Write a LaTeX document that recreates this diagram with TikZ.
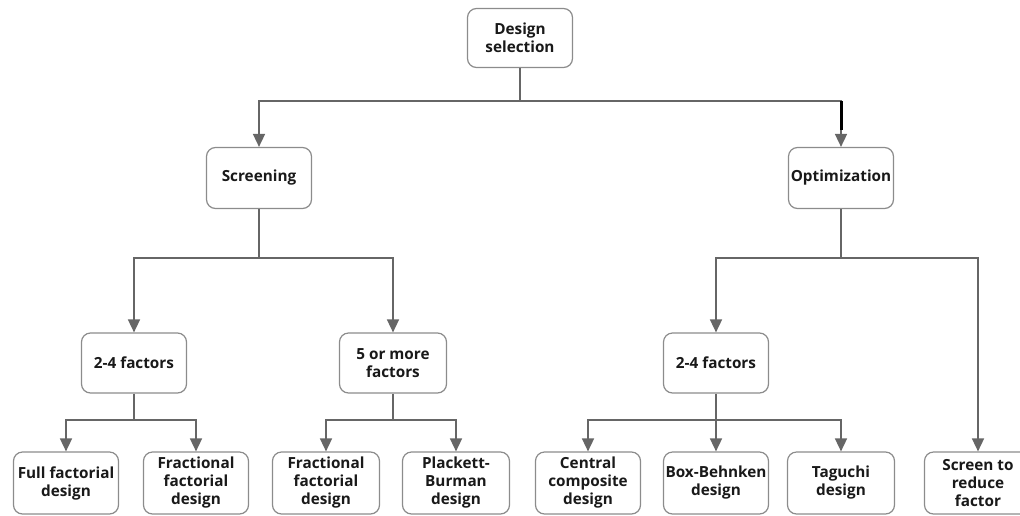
\documentclass[tikz,border=0pt]{standalone}
\usepackage{fontspec}
\setmainfont{Open Sans}
\usetikzlibrary{arrows.meta}
\begin{document}
\begin{tikzpicture}[x=1pt,y=-1pt,
  box/.style={draw=black!45,line width=1.2pt,rounded corners=9pt,fill=white,align=center,
    inner sep=0pt,minimum width=105pt,minimum height=60pt,
    font=\fontsize{15.3}{18}\selectfont\bfseries,text=black!90},
  conn/.style={draw=black!60,line width=1.6pt},
  arr/.style={conn,-{Triangle[length=13pt,width=12pt]}}]
\useasboundingbox (0,0) rectangle (1020,515);
\clip (0,0) rectangle (1020,515);
\node[box,minimum height=59pt] (ds) at (520,38) {Design\\selection};
\node[box,minimum height=61pt] (scr) at (259,178) {Screening};
\node[box,minimum height=61pt] (opt) at (841,178) {Optimization};
\node[box] (f1) at (134,363) {2-4 factors};
\node[box,minimum width=107pt] (f2) at (393,363) {5 or more\\factors};
\node[box] (f3) at (716,363) {2-4 factors};
\node[box,minimum height=62pt] (l1) at (66,483) {Full factorial\\design};
\node[box,minimum height=62pt] (l2) at (196,483) {Fractional\\factorial\\design};
\node[box,minimum height=62pt,minimum width=107pt] (l3) at (326,483) {Fractional\\factorial\\design};
\node[box,minimum height=62pt,minimum width=107pt] (l4) at (456,483) {Plackett-\\Burman\\design};
\node[box,minimum height=62pt] (l5) at (588,483) {Central\\composite\\design};
\node[box,minimum height=62pt] (l6) at (716,483) {Box-Behnken\\design};
\node[box,minimum height=62pt,minimum width=107pt] (l7) at (841,483) {Taguchi\\design};
\node[box,minimum height=62pt,minimum width=107pt] (l8) at (978,483) {Screen to\\reduce\\factor};
\coordinate (j0) at (520,101);
\coordinate (j1) at (259,258);
\coordinate (j2) at (841,258);
\coordinate (j3) at (134,420);
\coordinate (j4) at (393,420);
\coordinate (j5) at (716,420);
\draw[conn] (ds) -- (j0);
\draw[arr] (j0) -| (scr.north);
\draw[arr] (j0) -| (opt.north);
\draw[line width=3pt,black] (opt.north) ++(0,-46) -- ++(0,29);
\draw[conn] (scr) -- (j1);
\draw[arr] (j1) -| (f1.north);
\draw[arr] (j1) -| (f2.north);
\draw[conn] (opt) -- (j2);
\draw[arr] (j2) -| (f3.north);
\draw[arr] (j2) -| (l8.north);
\draw[conn] (f1) -- (j3);
\draw[arr] (j3) -| (l1.north);
\draw[arr] (j3) -| (l2.north);
\draw[conn] (f2) -- (j4);
\draw[arr] (j4) -| (l3.north);
\draw[arr] (j4) -| (l4.north);
\draw[conn] (f3) -- (j5);
\draw[arr] (j5) -| (l5.north);
\draw[arr] (j5) -- (l6.north);
\draw[arr] (j5) -| (l7.north);
\end{tikzpicture}
\end{document}
